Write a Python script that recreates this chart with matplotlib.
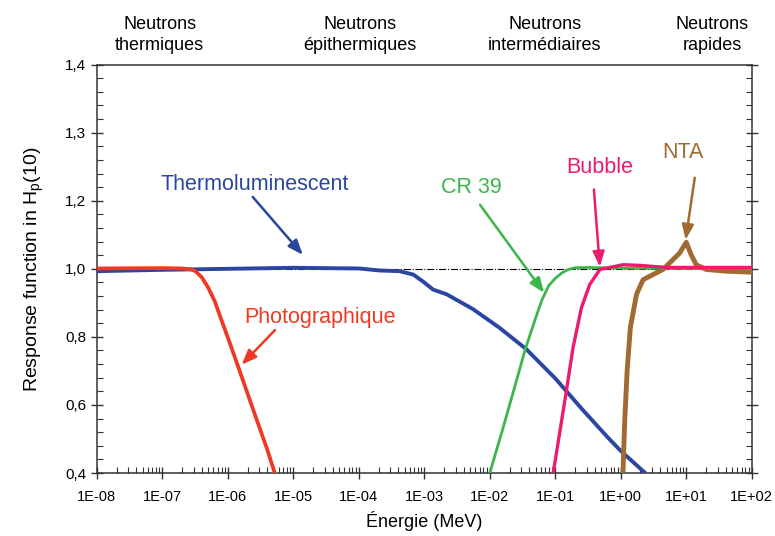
import numpy as np
import matplotlib
matplotlib.use('Agg')
import matplotlib.pyplot as plt
from matplotlib.ticker import FixedLocator, FuncFormatter, LogLocator, NullFormatter

plt.rcParams['font.family'] = ['Liberation Sans', 'DejaVu Sans']
plt.rcParams['mathtext.fontset'] = 'custom'
plt.rcParams['mathtext.rm'] = 'Liberation Sans'

# data (energy in MeV, response)
photo_e = [1e-8, 1e-7, 2e-7, 2.8e-7, 3.2e-7, 4.0e-7, 5.0e-7, 6.3e-7, 7.9e-7, 1.0e-6, 1.58e-6, 2.5e-6, 3.98e-6, 5.2e-6]
photo_r = [1.001, 1.002, 1.001, 0.998, 0.993, 0.975, 0.945, 0.905, 0.852, 0.798, 0.69, 0.58, 0.47, 0.40]

thermo_e = [1e-8, 1e-7, 1e-6, 1e-5, 1e-4, 2.1e-4, 4.2e-4, 6.8e-4, 9.5e-4, 1.36e-3, 2.2e-3,
            5.6e-3, 1.4e-2, 3.6e-2, 0.1, 0.25, 0.63, 1.0, 2.3]
thermo_r = [0.993, 0.997, 1.0, 1.003, 1.001, 0.995, 0.993, 0.983, 0.963, 0.939, 0.925,
            0.881, 0.827, 0.764, 0.678, 0.59, 0.505, 0.465, 0.402]

cr39_e = [1e-2, 1.58e-2, 2.5e-2, 3.5e-2, 5.0e-2, 6.3e-2, 7.9e-2, 0.1, 0.126, 0.158, 0.2, 0.316, 1.0, 10, 100]
cr39_r = [0.40, 0.53, 0.665, 0.765, 0.855, 0.91, 0.95, 0.972, 0.988, 0.998, 1.003, 1.004, 1.002, 1.001, 1.0]

bubble_e = [0.093, 0.14, 0.187, 0.251, 0.336, 0.48, 1.08, 1.95, 5.0, 20, 100]
bubble_r = [0.40, 0.613, 0.769, 0.886, 0.954, 0.998, 1.012, 1.01, 1.004, 1.004, 1.004]

nta_e = [1.08, 1.15, 1.25, 1.4, 1.74, 2.19, 3.1, 4.4, 5.9, 7.9, 10.0, 11.9, 14.2, 20.2, 40.7, 100]
nta_r = [0.40, 0.555, 0.70, 0.827, 0.925, 0.968, 0.983, 0.998, 1.022, 1.046, 1.078, 1.041, 1.012, 0.998, 0.993, 0.99]

y_ticks = [0.4, 0.6, 0.8, 1.0, 1.2, 1.3, 1.4]
regions = ['Neutrons\nthermiques', 'Neutrons\népithermiques', 'Neutrons\nintermédiaires', 'Neutrons\nrapides']


def fwd(v):
    v = np.asarray(v, dtype=float)
    return np.where(v <= 1.2, v, 1.2 + 2 * (v - 1.2))


def inv(u):
    u = np.asarray(u, dtype=float)
    return np.where(u <= 1.2, u, 1.2 + (u - 1.2) / 2)


fig = plt.figure(figsize=(7.75, 5.36), dpi=100)
ax = fig.add_axes([0.125, 0.1175, 0.845, 0.762])

ax.axhline(1.0, color='black', lw=0.8, ls='-.', zorder=1)
ax.plot(thermo_e, thermo_r, color='#2b46a0', lw=2.8, zorder=3, solid_joinstyle='round')
ax.plot(photo_e, photo_r, color='#ee3a22', lw=2.7, zorder=4, solid_joinstyle='round')
ax.plot(cr39_e, cr39_r, color='#3cb64a', lw=2.0, zorder=3, solid_joinstyle='round')
ax.plot(nta_e, nta_r, color='#a06a32', lw=3.5, zorder=3, solid_joinstyle='round')
ax.plot(bubble_e, bubble_r, color='#ee1a6e', lw=2.4, zorder=4, solid_joinstyle='round')

ax.set_xscale('log')
ax.set_yscale('function', functions=(fwd, inv))
ax.set_xlim(1e-8, 1e2)
ax.set_ylim(0.4, 1.4)

ax.xaxis.set_major_locator(LogLocator(base=10, numticks=20))
ax.xaxis.set_minor_locator(LogLocator(base=10, subs=np.arange(2, 10), numticks=20))
ax.xaxis.set_minor_formatter(NullFormatter())
ax.xaxis.set_major_formatter(FuncFormatter(lambda v, p: f"1E{int(round(np.log10(v))):+03d}"))

ax.yaxis.set_major_locator(FixedLocator(y_ticks))
ax.yaxis.set_minor_locator(FixedLocator(list(np.arange(0.44, 1.2, 0.04)) + list(np.arange(1.22, 1.4, 0.02))))
ax.yaxis.set_major_formatter(FuncFormatter(lambda v, p: f"{v:.1f}".replace('.', ',')))

for s in ax.spines.values():
    s.set_color('#333333')
    s.set_linewidth(1.1)
ax.tick_params(axis='both', which='major', direction='inout', length=8, color='#333333', width=1)
ax.tick_params(axis='both', which='minor', direction='in', length=4, color='#333333', width=0.8)
ax.tick_params(axis='y', which='both', right=True, labelsize=11)
ax.tick_params(axis='x', which='both', top=False, labelsize=10.5, pad=8)

ax.set_xlabel('Énergie (MeV)', fontsize=13, labelpad=5)
ax.set_ylabel('Response function in H$_\\mathregular{p}$(10)', fontsize=14, labelpad=14)

# region labels above the plot
for xf, txt in zip([0.206, 0.4645, 0.703, 0.919], regions):
    fig.text(xf, 0.935, txt, ha='center', va='center', fontsize=13, linespacing=1.35)

# curve labels with arrows
labels = [
    ('Thermoluminescent', '#2b46a0', (0.241, 0.706), (0.238, 0.676), (0.3145, 0.534)),
    ('Photographique', '#ee3a22', (0.340, 0.380), (0.272, 0.350), (0.221, 0.265)),
    ('CR 39', '#3cb64a', (0.5725, 0.699), (0.585, 0.657), (0.683, 0.441)),
    ('Bubble', '#ee1a6e', (0.768, 0.748), (0.759, 0.694), (0.768, 0.505)),
    ('NTA', '#a06a32', (0.895, 0.784), (0.913, 0.723), (0.899, 0.571)),
]
for txt, col, tpos, tail, tip in labels:
    ax.text(tpos[0], tpos[1], txt, color=col, fontsize=15.5, ha='center', va='center',
            transform=ax.transAxes)
    ax.annotate('', xy=tip, xytext=tail, xycoords='axes fraction', textcoords='axes fraction',
                arrowprops=dict(arrowstyle='-|>,head_length=0.9,head_width=0.35', color=col, lw=1.8,
                                shrinkA=0, shrinkB=0))

fig.savefig('out.png', dpi=100)
